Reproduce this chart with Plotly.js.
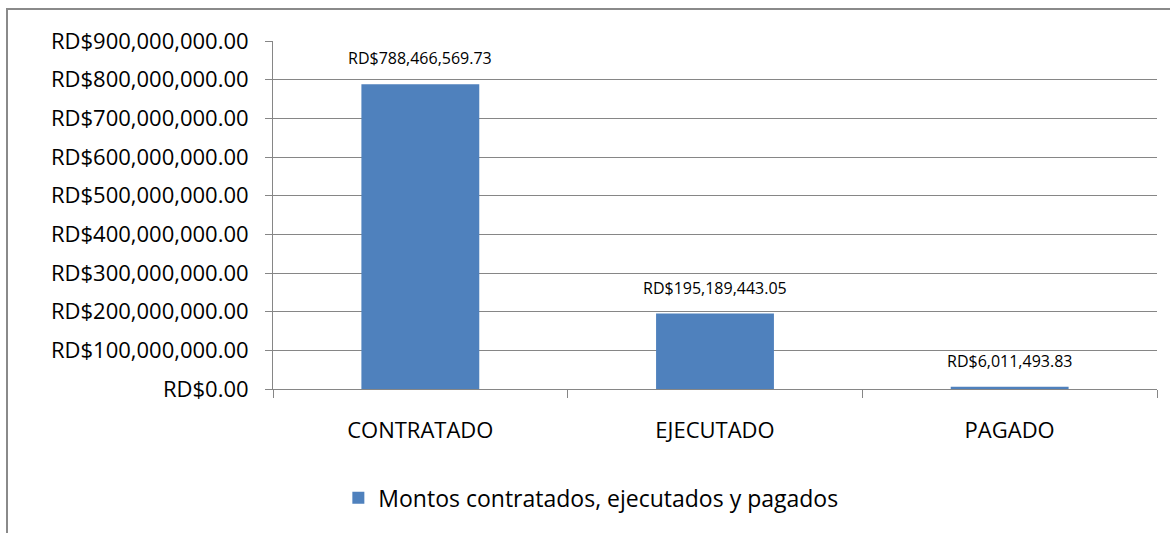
<!DOCTYPE html>
<html>
<head>
<meta charset="utf-8">
<script src="https://cdn.plot.ly/plotly-3.0.1.min.js"></script>
<style>
  body { margin: 0; background: #fff; }
  #chart { position: absolute; left: 0; top: 0; width: 1170px; height: 533px; }
  #frame { position: absolute; left: 6px; top: 8px; width: 1200px; height: 600px;
           border: 2px solid #8a8a8a; pointer-events: none; }
</style>
</head>
<body>
<div id="chart"></div>
<div id="frame"></div>
<script>
var categories = ['CONTRATADO', 'EJECUTADO', 'PAGADO'];
var montos = [788466569.73, 195189443.05, 6011493.83];
var seriesName = 'Montos contratados, ejecutados y pagados';

function fmt(v) {
  return 'RD$' + v.toLocaleString('en-US', {minimumFractionDigits: 2, maximumFractionDigits: 2});
}

var trace = {
  x: categories,
  y: montos,
  type: 'bar',
  name: seriesName,
  marker: { color: '#4f81bd' },
  hoverinfo: 'none'
};

// value labels above each bar
var notes = [];
for (i = 0; i < categories.length; i++) {
  notes.push({
    x: categories[i],
    y: montos[i],
    text: fmt(montos[i]),
    showarrow: false,
    yanchor: 'bottom',
    yshift: 13,
    font: { family: '"Open Sans", sans-serif', size: 16, color: '#000' }
  });
}

var layout = {
  width: 1170,
  height: 533,
  margin: { l: 273, r: 13, t: 41, b: 144 },
  paper_bgcolor: '#fff',
  plot_bgcolor: '#fff',
  font: { family: '"Open Sans", sans-serif', size: 22, color: '#000' },
  bargap: 0.6,
  showlegend: true,
  legend: {
    orientation: 'h',
    xref: 'container',
    yref: 'container',
    x: 0.505,
    xanchor: 'center',
    y: 0.066,
    yanchor: 'middle',
    font: { size: 23 }
  },
  xaxis: {
    automargin: false,
    tickangle: 0,
    tickfont: { size: 22 },
    showgrid: false,
    showline: true,
    linecolor: '#868686',
    linewidth: 1,
    ticks: 'outside',
    tickson: 'boundaries',
    ticklen: 8,
    tickcolor: '#868686',
    ticklabelstandoff: 22
  },
  yaxis: {
    automargin: false,
    range: [0, 900000000],
    dtick: 100000000,
    tickprefix: 'RD$',
    tickformat: ',.2f',
    showgrid: true,
    gridcolor: '#868686',
    gridwidth: 1,
    showline: true,
    linecolor: '#868686',
    ticks: 'outside',
    ticklen: 7,
    tickcolor: '#868686',
    ticklabelstandoff: 12,
    zeroline: false
  },
  annotations: notes
};

Plotly.newPlot('chart', [trace], layout, { displayModeBar: false, staticPlot: true });
</script>
</body>
</html>
